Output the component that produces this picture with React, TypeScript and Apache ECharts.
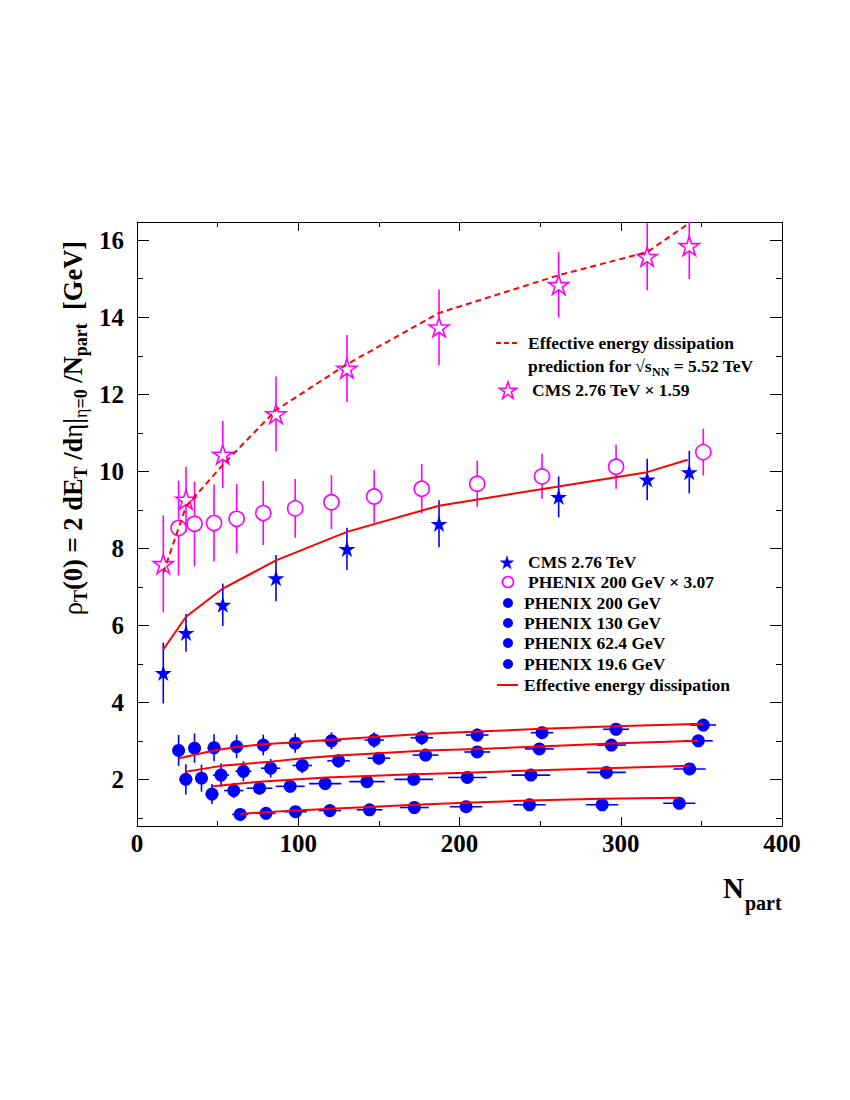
import React, { useEffect, useRef } from 'react';
import * as echarts from 'echarts';

// ---------------- data ----------------
// CMS 2.76 TeV (blue stars)
const cmsN = [16.3, 30.4, 53.2, 86.2, 130.2, 187.3, 261.5, 316.4, 342.5];
const cmsV = [4.77, 5.81, 6.54, 7.23, 7.99, 8.64, 9.34, 9.79, 9.98];
const cmsErr = [0.79, 0.49, 0.55, 0.6, 0.55, 0.61, 0.53, 0.54, 0.55];
// CMS 2.76 TeV x 1.59 (magenta open stars)
const cmsScaledV = [7.6, 9.27, 10.44, 11.49, 12.67, 13.74, 14.84, 15.57, 15.85];
const cmsScaledErr = [1.26, 0.85, 0.87, 0.97, 0.87, 0.98, 0.85, 0.87, 0.86];

// PHENIX 200 GeV (filled) and x 3.07 (open circles)
const p200N = [25.8, 35.7, 47.8, 61.8, 78.3, 98.1, 120.6, 147.1, 176.6, 211, 251.2, 297.1, 351.2];
const p200V = [2.76, 2.82, 2.83, 2.86, 2.9, 2.95, 3.01, 3.03, 3.09, 3.16, 3.22, 3.31, 3.42];
const p200YErr = [0.4, 0.38, 0.35, 0.3, 0.27, 0.25, 0.22, 0.2, 0.19, 0.17, 0.16, 0.15, 0.15];
const p200XErr = [3, 3, 4, 4, 5, 5, 6, 6, 7, 7, 7, 8, 8];
const p200ScaledV = [8.53, 8.64, 8.66, 8.77, 8.92, 9.04, 9.2, 9.35, 9.55, 9.68, 9.87, 10.12, 10.5];
const p200ScaledErr = [1.23, 1.1, 1.0, 0.9, 0.83, 0.76, 0.7, 0.68, 0.64, 0.6, 0.58, 0.57, 0.61];
const p200ScaledXErr = [4, 4, 4, 5, 5, 5, 5, 5, 5, 5, 5, 5, 5];

// PHENIX 130 GeV
const p130N = [30.3, 40, 52.1, 66, 82.9, 102.5, 125, 150, 179, 211, 249.5, 294.2, 348.1];
const p130V = [2.01, 2.04, 2.12, 2.22, 2.3, 2.37, 2.49, 2.56, 2.64, 2.72, 2.8, 2.9, 3.01];
const p130YErr = [0.39, 0.35, 0.3, 0.26, 0.24, 0.2, 0.18, 0.16, 0.15, 0.14, 0.13, 0.12, 0.12];
const p130XErr = [4, 4, 5, 5, 6, 6, 7, 7, 8, 8, 9, 9, 9];

// PHENIX 62.4 GeV
const p62N = [46.5, 60, 76, 95, 116.7, 142.6, 171.6, 204.9, 244.3, 291.1, 342.7];
const p62V = [1.63, 1.72, 1.78, 1.83, 1.9, 1.95, 2.01, 2.06, 2.12, 2.19, 2.28];
const p62YErr = [0.26, 0.2, 0.16, 0.14, 0.12, 0.11, 0.1, 0.1, 0.09, 0.09, 0.09];
const p62XErr = [4, 6, 8, 9, 10, 11, 12, 12, 12, 12, 10];

// PHENIX 19.6 GeV
const p19N = [64, 80, 98.3, 119.6, 144.2, 172, 204.1, 243.4, 288.5, 336.3];
const p19V = [1.1, 1.13, 1.17, 1.2, 1.22, 1.28, 1.3, 1.35, 1.35, 1.39];
const p19YErr = [0.06, 0.06, 0.06, 0.06, 0.06, 0.06, 0.06, 0.06, 0.06, 0.06];
const p19XErr = [5, 6, 7, 7, 8, 9, 10, 10, 10, 10];

// Effective energy dissipation curves
const fitCmsN = [16.3, 30.4, 53.2, 86.2, 130.2, 187.3, 261.5, 316.4, 341.5];
const fitCmsV = [5.38, 6.23, 6.96, 7.69, 8.43, 9.11, 9.61, 9.98, 10.3];
const predN = [16.3, 30.4, 53.2, 86.2, 130.2, 187.3, 261.5, 316.4, 341.5];
const predV = [7.37, 9.09, 10.17, 11.59, 12.78, 14.11, 15.09, 15.69, 16.41];
const fit200N = [26.1, 47.8, 62, 78.3, 98, 120.6, 147, 176.6, 211, 251, 297, 351];
const fit200V = [2.56, 2.76, 2.85, 2.92, 2.97, 3.04, 3.11, 3.19, 3.25, 3.32, 3.39, 3.45];
const fit130N = [30.3, 52.1, 82.9, 103.4, 125, 150, 179, 211, 249.5, 294, 348];
const fit130V = [2.21, 2.36, 2.47, 2.56, 2.63, 2.69, 2.76, 2.8, 2.86, 2.94, 3.01];
const fit62N = [47, 76, 117, 143, 172, 205, 244, 291, 343];
const fit62V = [1.83, 1.95, 2.06, 2.1, 2.14, 2.18, 2.24, 2.3, 2.36];
const fit19N = [64, 80, 98.6, 120, 144, 172, 204, 243, 288, 336];
const fit19V = [1.11, 1.16, 1.2, 1.25, 1.29, 1.35, 1.4, 1.46, 1.51, 1.53];

// axes
const xMin = 0;
const xMax = 400;
const yMin = 0.8;
const yMax = 16.47;
const yMajor = [2, 4, 6, 8, 10, 12, 14, 16];
const yMinor = [1, 3, 5, 7, 9, 11, 13, 15];

// ---------------- styling ----------------
const BLUE = '#0000ff';
const MAGENTA = '#ff00ff';
const RED = '#ff0000';
const SERIF = '"Liberation Serif", "Times New Roman", serif';
const STAR_D =
  'M0,-1 L0.2245,-0.309 L0.951,-0.309 L0.363,0.118 L0.588,0.809 L0,0.382 L-0.588,0.809 L-0.363,0.118 L-0.951,-0.309 L-0.2245,-0.309 Z';

let starRegistered = false;
function registerStar() {
  if (starRegistered) return;
  echarts.graphic.registerShape('legendStar', echarts.graphic.extendPath(STAR_D, {}) as any);
  starRegistered = true;
}

function zip(xs: number[], ys: number[]) {
  return xs.map((x, i) => [x, ys[i]]);
}

function errSeries(xs: number[], ys: number[], xe: number[] | null, ye: number[], color: string) {
  return {
    type: 'custom',
    z: 2,
    clip: true,
    encode: { x: 0, y: 1 },
    data: xs.map((x, i) => [x, ys[i], xe ? xe[i] : 0, ye[i]]),
    renderItem: (_p: any, api: any) => {
      const x = api.value(0);
      const y = api.value(1);
      const ex = api.value(2);
      const ey = api.value(3);
      const c = api.coord([x, y]);
      const children: any[] = [];
      if (ey > 0) {
        const t = api.coord([x, y + ey]);
        const b = api.coord([x, y - ey]);
        children.push({
          type: 'line',
          shape: { x1: c[0], y1: t[1], x2: c[0], y2: b[1] },
          style: { stroke: color, lineWidth: 1.6 },
        });
      }
      if (ex > 0) {
        const l = api.coord([x - ex, y]);
        const r = api.coord([x + ex, y]);
        children.push({
          type: 'line',
          shape: { x1: l[0], y1: c[1], x2: r[0], y2: c[1] },
          style: { stroke: color, lineWidth: 1.6 },
        });
      }
      return { type: 'group', children };
    },
  };
}

function scatter(xs: number[], ys: number[], symbol: string, size: number, fill: string, border?: string) {
  return {
    type: 'scatter',
    z: 3,
    symbol,
    symbolSize: size,
    symbolKeepAspect: true,
    data: zip(xs, ys),
    itemStyle: border
      ? { color: fill, borderColor: border, borderWidth: 1.6, opacity: 1 }
      : { color: fill, opacity: 1 },
  };
}

function curve(xs: number[], ys: number[], dashed: boolean) {
  return {
    type: 'line',
    z: 4,
    showSymbol: false,
    symbol: 'none',
    smooth: false,
    data: zip(xs, ys),
    lineStyle: { color: RED, width: 2, type: dashed ? [6, 4] : 'solid' },
  };
}

const tickLine = { color: '#000', width: 1 };

function yAxisDef(position: string, values: number[], len: number, labels: boolean, line: boolean) {
  return {
    type: 'value',
    position,
    min: yMin,
    max: yMax,
    splitLine: { show: false },
    axisLine: { show: line, lineStyle: { color: '#000', width: 1 } },
    axisTick: { show: true, inside: true, length: len, customValues: values, lineStyle: tickLine },
    axisLabel: labels
      ? {
          show: true,
          customValues: values,
          margin: 13,
          color: '#000',
          fontFamily: SERIF,
          fontWeight: 'bold',
          fontSize: 25,
        }
      : { show: false },
  };
}

function xAxisDef(position: string, labels: boolean) {
  return {
    type: 'value',
    position,
    min: xMin,
    max: xMax,
    interval: 100,
    splitLine: { show: false },
    axisLine: { show: true, lineStyle: { color: '#000', width: 1 } },
    axisTick: { show: true, inside: true, length: 9, lineStyle: tickLine },
    minorTick: { show: true, splitNumber: 2, length: 5, lineStyle: tickLine },
    minorSplitLine: { show: false },
    axisLabel: labels
      ? { show: true, margin: 5, color: '#000', fontFamily: SERIF, fontWeight: 'bold', fontSize: 25 }
      : { show: false },
  };
}

function text(x: number, y: number, str: string, size = 17.5, extra: any = {}) {
  return {
    type: 'text',
    x,
    y,
    z: 10,
    style: {
      text: str,
      fill: '#000',
      font: `bold ${size}px ${SERIF}`,
      align: 'left',
      verticalAlign: 'middle',
      textAlign: 'left',
      textVerticalAlign: 'middle',
      ...extra,
    },
  };
}

export default function App() {
  const ref = useRef<HTMLDivElement>(null);
  useEffect(() => {
    if (!ref.current) return;
    registerStar();
    const chart = echarts.init(ref.current, null, { renderer: 'svg' });

    const legendFont = 17.5;
    const graphic: any[] = [
      // Y title
      {
        type: 'text',
        x: 73,
        y: 428,
        rotation: Math.PI / 2,
        z: 10,
        style: {
          text: '{m|ρ}{s|T}{b|(0) = 2 dE}{s|T}{b| /d}{m|η}{b||}{sm|η}{s|=0}{b| /N}{s|part}{b|  [GeV]}',
          fill: '#000',
          align: 'center',
          verticalAlign: 'middle',
          textAlign: 'center',
          textVerticalAlign: 'middle',
          rich: {
            b: { fontFamily: SERIF, fontWeight: 'bold', fontSize: 26.5, lineHeight: 34, fill: '#000' },
            m: { fontFamily: SERIF, fontWeight: 'normal', fontSize: 26.5, lineHeight: 34, fill: '#000' },
            s: { fontFamily: SERIF, fontWeight: 'bold', fontSize: 18, lineHeight: 18, verticalAlign: 'bottom', fill: '#000' },
            sm: { fontFamily: SERIF, fontWeight: 'normal', fontSize: 18, lineHeight: 18, verticalAlign: 'bottom', fill: '#000' },
          },
        },
      },
      // X title
      text(723, 888, 'N', 29),
      text(745, 903, 'part', 20),

      // Legend 1
      { type: 'line', z: 10, shape: { x1: 496, y1: 343, x2: 518, y2: 343 }, style: { stroke: RED, lineWidth: 2, lineDash: [5, 3] } },
      text(528, 343, 'Effective energy dissipation', legendFont),
      {
        type: 'text',
        x: 528,
        y: 366,
        z: 10,
        style: {
          text: '{b|prediction for √s}{s|NN}{b| = 5.52 TeV}',
          fill: '#000',
          align: 'left',
          verticalAlign: 'middle',
          textAlign: 'left',
          textVerticalAlign: 'middle',
          rich: {
            b: { fontFamily: SERIF, fontWeight: 'bold', fontSize: legendFont, lineHeight: 24, fill: '#000' },
            s: { fontFamily: SERIF, fontWeight: 'bold', fontSize: 12, lineHeight: 12, verticalAlign: 'bottom', fill: '#000' },
          },
        },
      },
      {
        type: 'legendStar', z: 10, x: 508, y: 391, scaleX: 9, scaleY: 9,
        style: { fill: '#fff', stroke: MAGENTA, lineWidth: 1.6, strokeNoScale: true },
      },
      text(532, 390, 'CMS 2.76 TeV × 1.59', legendFont),

      // Legend 2
      {
        type: 'legendStar', z: 10, x: 507, y: 563, scaleX: 7, scaleY: 7,
        style: { fill: BLUE, stroke: BLUE, lineWidth: 0.5, strokeNoScale: true },
      },
      text(528, 562, 'CMS 2.76 TeV', legendFont),
      { type: 'circle', z: 10, shape: { cx: 508, cy: 582, r: 5.5 }, style: { fill: '#fff', stroke: MAGENTA, lineWidth: 1.6 } },
      text(528, 582, 'PHENIX 200 GeV × 3.07', legendFont),
      { type: 'circle', z: 10, shape: { cx: 508, cy: 603, r: 5 }, style: { fill: BLUE } },
      text(524, 603, 'PHENIX 200 GeV', legendFont),
      { type: 'circle', z: 10, shape: { cx: 508, cy: 623, r: 5 }, style: { fill: BLUE } },
      text(524, 623, 'PHENIX 130 GeV', legendFont),
      { type: 'circle', z: 10, shape: { cx: 508, cy: 643, r: 5 }, style: { fill: BLUE } },
      text(524, 643, 'PHENIX 62.4 GeV', legendFont),
      { type: 'circle', z: 10, shape: { cx: 508, cy: 664, r: 5 }, style: { fill: BLUE } },
      text(524, 664, 'PHENIX 19.6 GeV', legendFont),
      { type: 'line', z: 10, shape: { x1: 497, y1: 685, x2: 518, y2: 685 }, style: { stroke: RED, lineWidth: 2 } },
      text(524, 685, 'Effective energy dissipation', legendFont),
    ];

    const option: any = {
      animation: false,
      backgroundColor: '#fff',
      grid: { left: 137, right: 68, top: 222, bottom: 274, containLabel: false },
      xAxis: [xAxisDef('bottom', true), xAxisDef('top', false)],
      yAxis: [
        yAxisDef('left', yMajor, 12, true, true),
        yAxisDef('left', yMinor, 6, false, false),
        yAxisDef('right', yMajor, 12, false, true),
        yAxisDef('right', yMinor, 6, false, false),
      ],
      series: [
        errSeries(p200N, p200V, p200XErr, p200YErr, BLUE),
        errSeries(p130N, p130V, p130XErr, p130YErr, BLUE),
        errSeries(p62N, p62V, p62XErr, p62YErr, BLUE),
        errSeries(p19N, p19V, p19XErr, p19YErr, BLUE),
        errSeries(p200N, p200ScaledV, p200ScaledXErr, p200ScaledErr, MAGENTA),
        errSeries(cmsN, cmsV, null, cmsErr, BLUE),
        errSeries(cmsN, cmsScaledV, null, cmsScaledErr, MAGENTA),
        scatter(p200N, p200V, 'circle', 13, BLUE),
        scatter(p130N, p130V, 'circle', 13, BLUE),
        scatter(p62N, p62V, 'circle', 13, BLUE),
        scatter(p19N, p19V, 'circle', 13, BLUE),
        scatter(p200N, p200ScaledV, 'circle', 15, '#fff', MAGENTA),
        scatter(cmsN, cmsV, 'path://' + STAR_D, 17, BLUE),
        scatter(cmsN, cmsScaledV, 'path://' + STAR_D, 20, '#fff', MAGENTA),
        curve(fitCmsN, fitCmsV, false),
        curve(predN, predV, true),
        curve(fit200N, fit200V, false),
        curve(fit130N, fit130V, false),
        curve(fit62N, fit62V, false),
        curve(fit19N, fit19V, false),
      ],
      graphic,
    };
    chart.setOption(option);
    return () => chart.dispose();
  }, []);

  return (
    <div
      ref={ref}
      style={{ position: 'fixed', left: 0, top: 0, width: 850, height: 1100, background: '#fff' }}
    />
  );
}
